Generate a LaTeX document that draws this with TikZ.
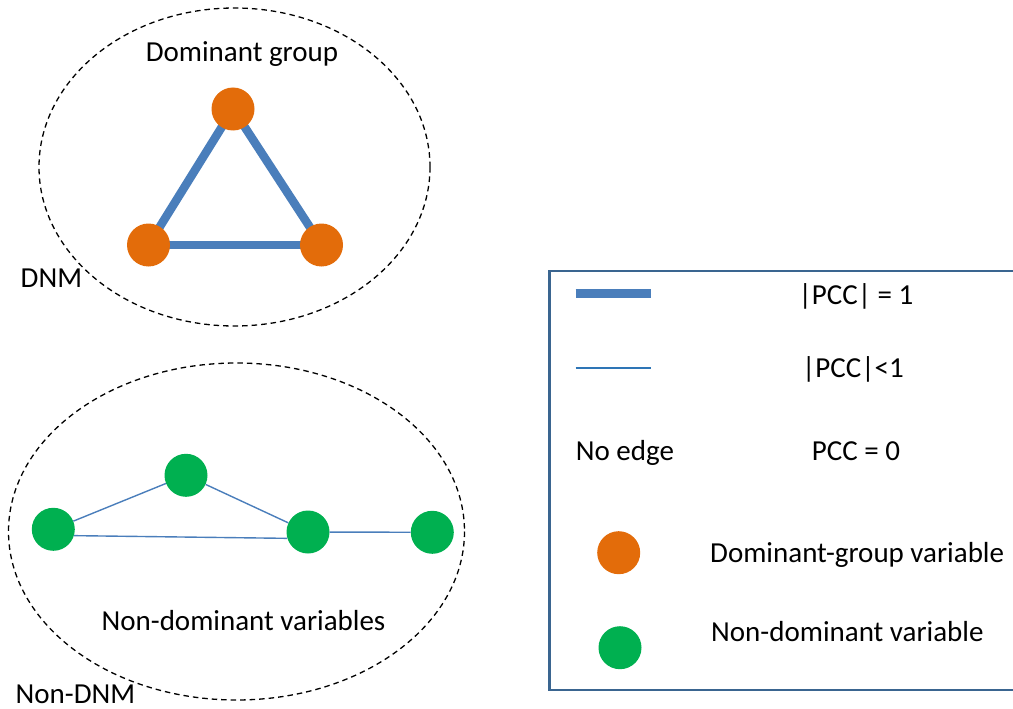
\documentclass[tikz,border=0pt]{standalone}
\usepackage{fontspec}
\setmainfont{Carlito}
\usetikzlibrary{backgrounds}
\definecolor{dgorange}{HTML}{E36C0A}
\definecolor{ndgreen}{HTML}{00B050}
\definecolor{edgeblue}{HTML}{4A7EBB}
\definecolor{thinblue}{HTML}{2E75B6}
\definecolor{boxblue}{HTML}{3A6590}
\begin{document}
\begin{tikzpicture}[x=1pt,y=-1pt,
  dgnode/.style={circle,fill=dgorange,minimum size=43pt,inner sep=0pt},
  ndnode/.style={circle,fill=ndgreen,minimum size=43pt,inner sep=0pt},
  strong/.style={draw=edgeblue,line width=8.5pt},
  weak/.style={draw=edgeblue,line width=1.4pt},
  region/.style={draw=black,dash pattern=on 5.5pt off 4pt,line width=1.3pt},
  lbl/.style={font=\fontsize{29}{32}\selectfont,inner sep=0pt}]
\useasboundingbox (0,0) rectangle (1013,709);
% ellipses
\draw[region] (234.5,167) ellipse [x radius=195.5, y radius=159];
\draw[region] (236.5,531.5) ellipse [x radius=228, y radius=168.5];
% DNM
\node[dgnode] (a) at (233,109) {};
\node[dgnode] (b) at (148.5,245) {};
\node[dgnode] (c) at (321.5,245) {};
\begin{scope}[on background layer]
\draw[strong] (a.center) -- (b.center);
\draw[strong] (a.center) -- (c.center);
\draw[strong] (b.center) -- (c.center);
\end{scope}
\node[lbl,anchor=base] (dg) at (242,61.5) {Dominant group};
\node[lbl,anchor=base west] (dnm) at (20.5,287.5) {DNM};
% Non-DNM
\node[ndnode] (n1) at (53.3,529.3) {};
\node[ndnode] (n2) at (186,475.3) {};
\node[ndnode] (n3) at (308,532) {};
\node[ndnode] (n4) at (432.3,532.3) {};
\draw[weak] (n1) -- (n2);
\draw[weak] (n2) -- (n3);
\draw[weak] (n1.-17) -- (n3.197);
\draw[weak] (n3) -- (n4);
\node[lbl,anchor=base] (ndv) at (243.5,630) {Non-dominant variables};
\node[lbl,anchor=base west] (ndnm) at (15.5,703) {Non-DNM};
% legend
\draw[draw=boxblue,line width=2.5pt] (1020,271) -- (549.3,271) -- (549.3,690) -- (1020,690);
\coordinate (s1) at (575.7,293.3);
\coordinate (s2) at (651,293.3);
\draw[strong] (s1) -- (s2);
\coordinate (w1) at (575.7,368);
\coordinate (w2) at (651,368);
\draw[draw=thinblue,line width=1.4pt] (w1) -- (w2);
\node[lbl,anchor=base] (l1) at (856,304) {|PCC| = 1};
\node[lbl,anchor=base] (l2) at (853,377.3) {|PCC|<1};
\node[lbl,anchor=base west] (l3) at (575.7,460) {No edge};
\node[lbl,anchor=base] (l4) at (856,460) {PCC = 0};
\node[dgnode] (lo) at (618.7,552.7) {};
\node[lbl,anchor=base west] (l5) at (710,562.7) {Dominant-group variable};
\node[ndnode] (lg) at (620,647.7) {};
\node[lbl,anchor=base west] (l6) at (711,641.7) {Non-dominant variable};
\end{tikzpicture}
\end{document}
